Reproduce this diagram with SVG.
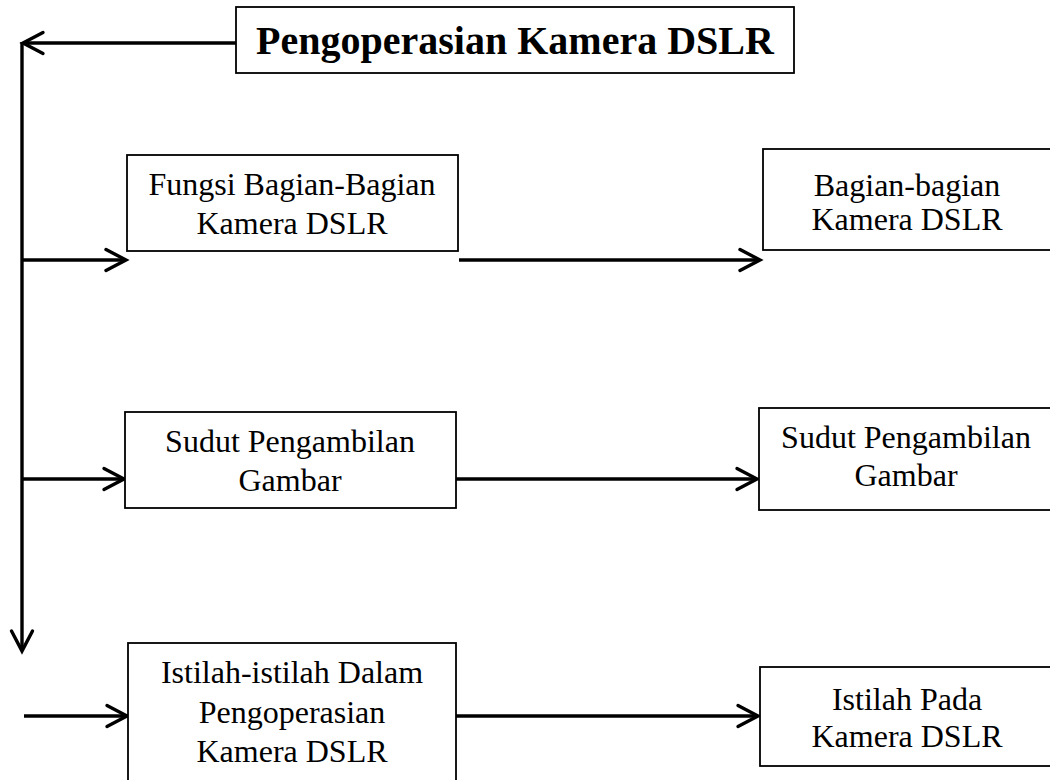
<svg xmlns="http://www.w3.org/2000/svg" width="1050" height="780" viewBox="0 0 1050 780">
  <style>
    .box { fill: #ffffff; stroke: #000000; stroke-width: 1.8; }
    .title { font-family: "Liberation Serif", "Times New Roman", serif; font-size: 40px; font-weight: bold; fill: #000000; text-anchor: middle; }
    .label { font-family: "Liberation Serif", "Times New Roman", serif; font-size: 32px; fill: #000000; text-anchor: middle; }
    .conn { fill: none; stroke: #000000; stroke-width: 3.4; }
  </style>
  <defs>
    <marker id="chevron" markerUnits="userSpaceOnUse" markerWidth="30" markerHeight="30" viewBox="-24 -14 30 28" refX="0" refY="0" orient="auto">
      <polyline points="-20,-10.5 0,0 -20,10.5" fill="none" stroke="#000000" stroke-width="3.4" stroke-linecap="round" stroke-linejoin="miter"/>
    </marker>
  </defs>
  <rect width="1050" height="780" fill="#ffffff"/>

  <!-- connectors -->
  <g id="connectors">
    <line class="conn" x1="236" y1="43" x2="23" y2="43" marker-end="url(#chevron)"/>
    <line class="conn" x1="22" y1="42" x2="22" y2="651" marker-end="url(#chevron)"/>
    <line class="conn" x1="22" y1="260" x2="126" y2="260" marker-end="url(#chevron)"/>
    <line class="conn" x1="22" y1="479" x2="124" y2="479" marker-end="url(#chevron)"/>
    <line class="conn" x1="24" y1="716" x2="127" y2="716" marker-end="url(#chevron)"/>
    <line class="conn" x1="459" y1="260" x2="760" y2="260" marker-end="url(#chevron)"/>
    <line class="conn" x1="456" y1="479" x2="757" y2="479" marker-end="url(#chevron)"/>
    <line class="conn" x1="456" y1="716" x2="758" y2="716" marker-end="url(#chevron)"/>
  </g>

  <!-- title -->
  <g id="node-title">
    <rect class="box" x="236" y="7" width="558" height="66"/>
    <text class="title" x="515" y="54">Pengoperasian Kamera DSLR</text>
  </g>

  <!-- row 1 -->
  <g id="node-fungsi">
    <rect class="box" x="127" y="155" width="331" height="96"/>
    <text class="label" x="292" y="195">Fungsi Bagian-Bagian</text>
    <text class="label" x="292" y="234">Kamera DSLR</text>
  </g>
  <g id="node-bagian">
    <rect class="box" x="763" y="149" width="300" height="101"/>
    <text class="label" x="907" y="196">Bagian-bagian</text>
    <text class="label" x="907" y="230">Kamera DSLR</text>
  </g>

  <!-- row 2 -->
  <g id="node-sudut-left">
    <rect class="box" x="125" y="412" width="331" height="96"/>
    <text class="label" x="290" y="452">Sudut Pengambilan</text>
    <text class="label" x="290" y="491">Gambar</text>
  </g>
  <g id="node-sudut-right">
    <rect class="box" x="759" y="408" width="300" height="102"/>
    <text class="label" x="906" y="448">Sudut Pengambilan</text>
    <text class="label" x="906" y="486">Gambar</text>
  </g>

  <!-- row 3 -->
  <g id="node-istilah-left">
    <rect class="box" x="128" y="643" width="328" height="150"/>
    <text class="label" x="292" y="683">Istilah-istilah Dalam</text>
    <text class="label" x="292" y="723">Pengoperasian</text>
    <text class="label" x="292" y="762">Kamera DSLR</text>
  </g>
  <g id="node-istilah-right">
    <rect class="box" x="760" y="667" width="300" height="99"/>
    <text class="label" x="907" y="710">Istilah Pada</text>
    <text class="label" x="907" y="747">Kamera DSLR</text>
  </g>
</svg>
